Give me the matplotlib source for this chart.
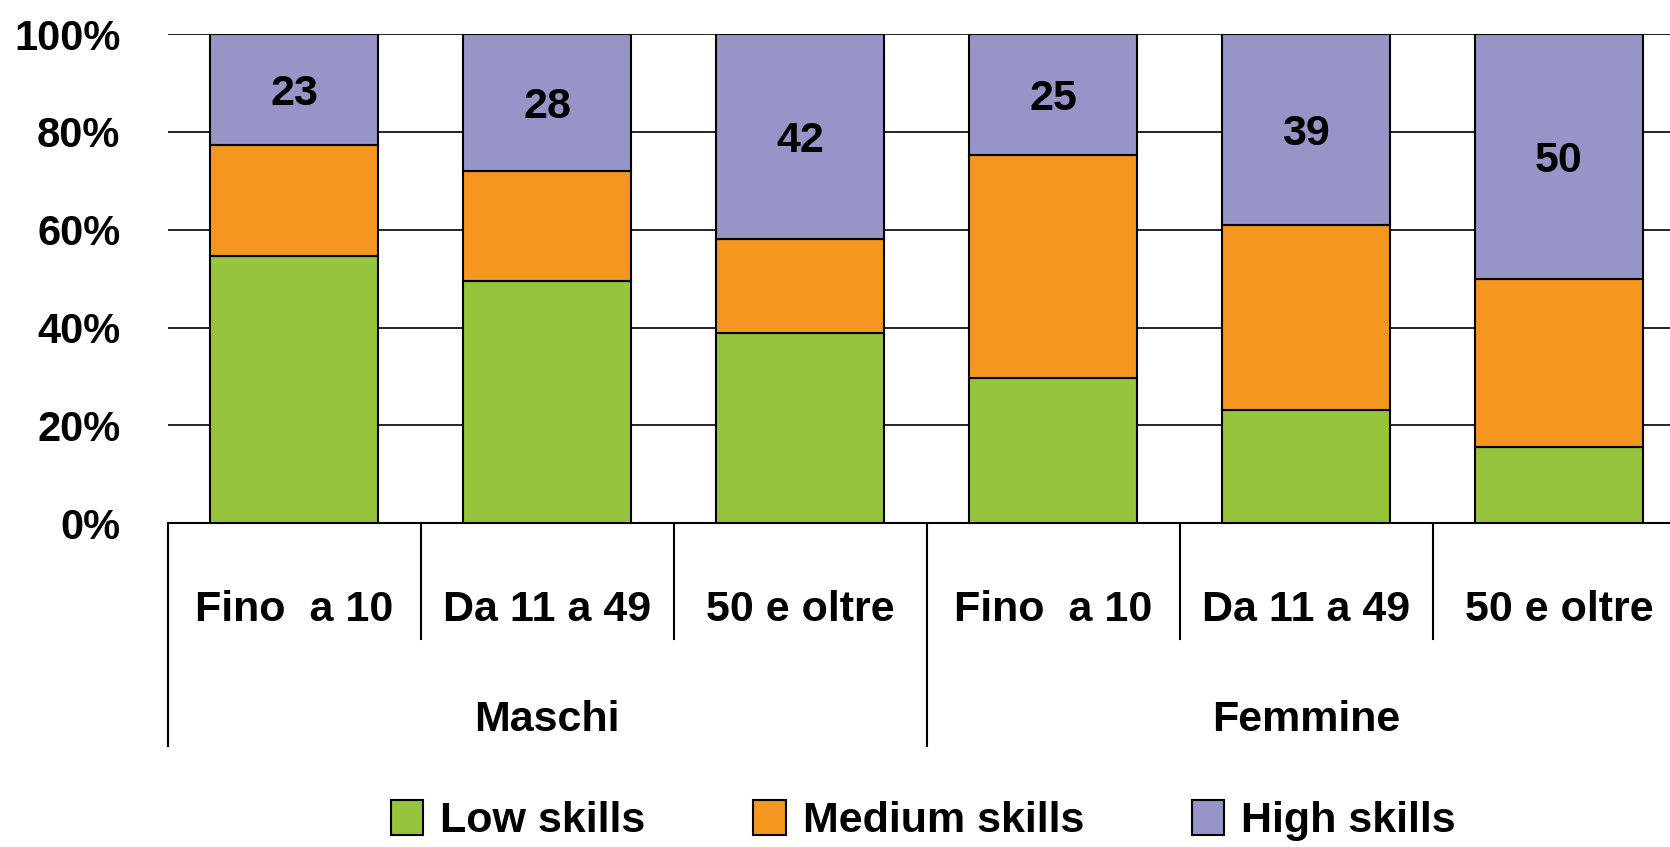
import numpy as np
import matplotlib
matplotlib.use("Agg")
import matplotlib.pyplot as plt
from matplotlib.patches import Patch

plt.rcParams['font.family'] = ['Liberation Sans', 'DejaVu Sans']
plt.rcParams['font.weight'] = 'bold'

# data (percent of each group)
categories = ['Fino  a 10', 'Da 11 a 49', '50 e oltre', 'Fino  a 10', 'Da 11 a 49', '50 e oltre']
groups = ['Maschi', 'Femmine']
low = [54.7, 49.5, 38.8, 29.6, 23.1, 15.5]
medium = [22.6, 22.6, 19.4, 45.6, 37.9, 34.4]
high = [22.7, 27.9, 41.8, 24.8, 39.0, 50.1]
high_labels = ['23', '28', '42', '25', '39', '50']
series_names = ['Low skills', 'Medium skills', 'High skills']

col_low = '#96C43C'
col_med = '#F4961F'
col_high = '#9794C7'

fig = plt.figure(figsize=(16.7, 8.47), dpi=100)
ax = fig.add_axes([0.1004, 0.3824, 0.9089, 0.5773])

x = np.arange(len(categories))
w = 0.665
low = np.array(low)
medium = np.array(medium)
high = np.array(high)

ax.bar(x, low, w, color=col_low, edgecolor='black', lw=1.5, zorder=3)
ax.bar(x, medium, w, bottom=low, color=col_med, edgecolor='black', lw=1.5, zorder=3)
ax.bar(x, high, w, bottom=low + medium, color=col_high, edgecolor='black', lw=1.5, zorder=3)

# value labels in the middle of the high skills segment
for i in range(len(x)):
    ax.text(x[i], low[i] + medium[i] + high[i] / 2, high_labels[i], ha='center',
            va='center_baseline', fontsize=31, fontweight='bold', zorder=4)

ax.set_xlim(-0.5, len(x) - 0.5)
ax.set_ylim(0, 100)
ax.set_yticks([0, 20, 40, 60, 80, 100])
ax.set_yticklabels(['0%', '20%', '40%', '60%', '80%', '100%'], fontsize=30, fontweight='bold')
ax.tick_params(axis='y', length=0, pad=34)
ax.set_xticks([])
ax.yaxis.grid(True, color='black', lw=1.2, zorder=0)
for s in ['left', 'right', 'top']:
    ax.spines[s].set_visible(False)
ax.spines['bottom'].set_linewidth(1.5)

# two level category axis
trans = ax.get_xaxis_transform()
for i in range(len(x) + 1):
    xe = i - 0.5
    if i % 3 == 0:
        if i == len(x):
            continue
        ax.plot([xe, xe], [0, -0.455], color='black', lw=1.5, transform=trans, clip_on=False)
    else:
        ax.plot([xe, xe], [0, -0.2375], color='black', lw=1.5, transform=trans, clip_on=False)

for i in range(len(x)):
    ax.text(x[i], -0.178, categories[i], ha='center', va='center', fontsize=31,
            fontweight='bold', transform=trans)
for g in range(len(groups)):
    ax.text(g * 3 + 1, -0.402, groups[g], ha='center', va='center', fontsize=31,
            fontweight='bold', transform=trans)

handles = [Patch(facecolor=c, edgecolor='black', lw=1.5) for c in [col_low, col_med, col_high]]
fig.legend(handles, series_names, loc='center', bbox_to_anchor=(0.553, 0.031), ncol=3,
           frameon=False, prop={'size': 31, 'weight': 'bold'}, handlelength=0.75,
           handleheight=0.85, handletextpad=0.4, columnspacing=2.5)

fig.savefig('out.png', dpi=100)
